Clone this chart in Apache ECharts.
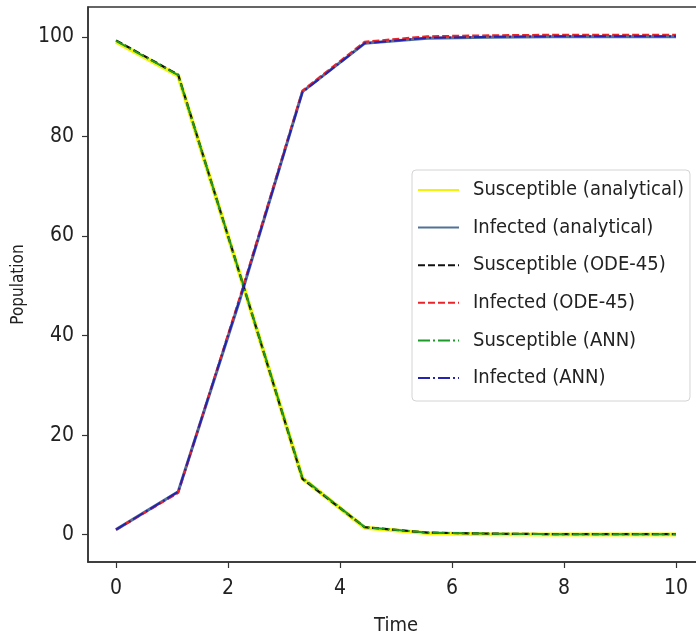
<!DOCTYPE html>
<html>
<head>
<meta charset="utf-8">
<script src="https://cdn.jsdelivr.net/npm/echarts@6/dist/echarts.min.js"></script>
<style>html,body{margin:0;padding:0;background:#fff;overflow:hidden;}#c{width:696px;height:641px;}</style>
</head>
<body>
<div id="c"></div>
<script>
const time = [0, 1.11, 2.22, 3.33, 4.44, 5.56, 6.67, 7.78, 8.89, 10];
const susceptibleAnalytical = [99.0, 92.2, 52.0, 11.3, 1.4, 0.3, 0.1, 0.0, 0.0, 0.0];
const infectedAnalytical = [1.0, 8.6, 47.5, 89.0, 98.7, 99.7, 99.9, 100.0, 100.0, 100.0];
const susceptibleODE = [99.3, 92.4, 52.0, 11.2, 1.5, 0.4, 0.2, 0.1, 0.1, 0.1];
const infectedODE = [1.0, 8.4, 48.0, 89.2, 99.0, 100.1, 100.3, 100.4, 100.4, 100.4];
const susceptibleANN = [99.2, 92.3, 52.1, 11.4, 1.5, 0.4, 0.2, 0.1, 0.1, 0.1];
const infectedANN = [1.0, 8.6, 47.6, 88.9, 98.7, 99.8, 100.0, 100.1, 100.1, 100.1];
const xTicks = [0, 2, 4, 6, 8, 10];
const yTicks = [0, 20, 40, 60, 80, 100];
const names = ['Susceptible (analytical)', 'Infected (analytical)', 'Susceptible (ODE-45)', 'Infected (ODE-45)', 'Susceptible (ANN)', 'Infected (ANN)'];

const FONT = "'DejaVu Sans Condensed', 'Liberation Sans Narrow', 'DejaVu Sans', sans-serif";
const pair = (ys) => time.map((t, i) => [t, ys[i]]);

function line(name, ys, color, width, type) {
  return {
    name: name, type: 'line', data: pair(ys), symbol: 'none', smooth: false,
    lineStyle: { color: color, width: width, type: type },
    itemStyle: { color: color },
    emphasis: { disabled: true }, silent: true, animation: false
  };
}

const chart = echarts.init(document.getElementById('c'), null, { renderer: 'canvas' });
chart.setOption({
  backgroundColor: '#fff',
  animation: false,
  grid: { left: 88, top: 7, width: 616, height: 555, outerBoundsMode: 'none', containLabel: false, show: true, borderColor: '#333', borderWidth: 1.5, backgroundColor: 'transparent' },
  xAxis: {
    type: 'value', min: -0.5, max: 10.5,
    name: 'Time', nameLocation: 'middle', nameGap: 54,
    nameTextStyle: { fontFamily: FONT, fontSize: 20, color: '#222' },
    axisLine: { show: true, onZero: false, lineStyle: { color: '#333', width: 1.5 } },
    axisTick: { show: true, length: 6, customValues: xTicks, lineStyle: { color: '#333', width: 1.2 } },
    axisLabel: { customValues: xTicks, margin: 16, fontFamily: FONT, fontSize: 21, color: '#222' },
    splitLine: { show: false }
  },
  yAxis: {
    type: 'value', min: -5.5, max: 106,
    name: 'Population', nameLocation: 'middle', nameGap: 60, nameRotate: 90,
    nameTextStyle: { fontFamily: FONT, fontSize: 17, color: '#222' },
    axisLine: { show: true, onZero: false, lineStyle: { color: '#333', width: 1.5 } },
    axisTick: { show: true, length: 6, customValues: yTicks, lineStyle: { color: '#333', width: 1.2 } },
    axisLabel: { customValues: yTicks, margin: 14, fontFamily: FONT, fontSize: 21, color: '#222', padding: [6, 0, 0, 0] },
    splitLine: { show: false }
  },
  legend: {
    orient: 'vertical', left: 412, top: 170,
    data: names,
    itemWidth: 41, itemHeight: 14, itemGap: 13.6,
    padding: [8, 6, 11, 5],
    itemStyle: { opacity: 0 },
    backgroundColor: '#fff', borderColor: '#d4d4d4', borderWidth: 1, borderRadius: 4,
    textStyle: { fontFamily: FONT, fontSize: 20, color: '#222', lineHeight: 24, padding: [0, 0, 0, 9] },
    selectedMode: false
  },
  series: [
    line(names[0], susceptibleAnalytical, '#f2f20a', 4, 'solid'),
    line(names[1], infectedAnalytical, '#4f7396', 3, 'solid'),
    line(names[2], susceptibleODE, '#111', 2.2, [7, 3]),
    line(names[3], infectedODE, '#e8252a', 2.2, [7, 3]),
    line(names[4], susceptibleANN, '#1e9a2a', 2, [12, 3, 2, 3]),
    line(names[5], infectedANN, '#2424b0', 2, [12, 3, 2, 3])
  ]
});
</script>
</body>
</html>
